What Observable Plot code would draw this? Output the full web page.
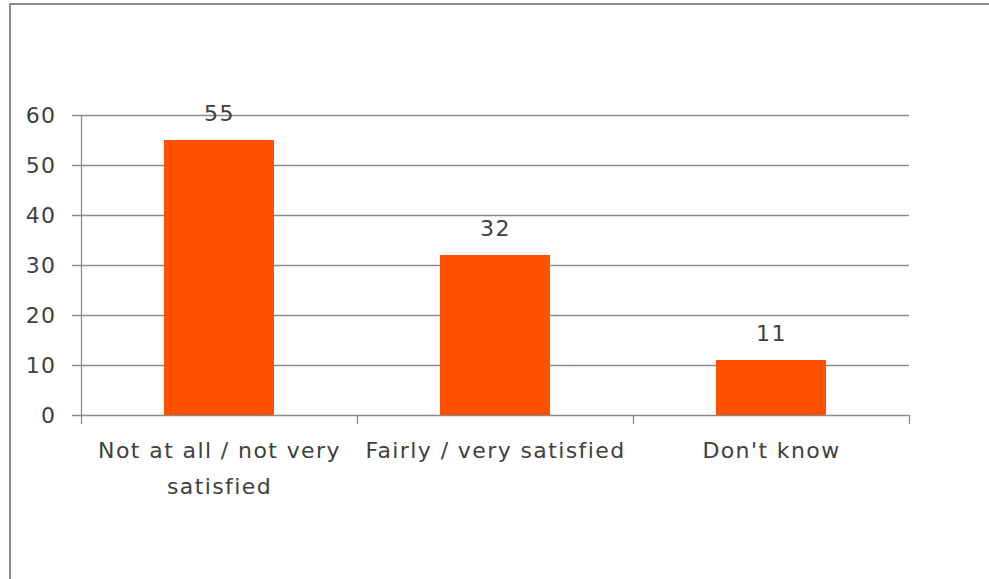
<!DOCTYPE html>
<html>
<head>
<meta charset="utf-8">
<script src="https://cdn.jsdelivr.net/npm/d3@7"></script>
<script src="https://cdn.jsdelivr.net/npm/@observablehq/plot@0.6"></script>
<style>
  html, body { margin: 0; padding: 0; background: #fff; overflow: hidden; width: 989px; height: 579px; }
  #frame { position: absolute; left: 9px; top: 3px; width: 1000px; height: 600px;
           border-left: 2px solid #8c8c8c; border-top: 2px solid #8c8c8c; }
  #chart { position: absolute; left: 0; top: 0; }
  #chart text { letter-spacing: 1.4px; }
</style>
</head>
<body>
<div id="frame"></div>
<div id="chart"></div>
<script>
const categories = ["Not at all / not very satisfied", "Fairly / very satisfied", "Don't know"];
const tickLabels = ["Not at all / not very\nsatisfied", "Fairly / very satisfied", "Don't know"];
const values = [55, 32, 11];
const yTicks = [0, 10, 20, 30, 40, 50, 60];

const data = categories.map((c, i) => ({category: c, value: values[i], label: tickLabels[i]}));

const W = 989, H = 579;
const mL = 81, mR = 80, mT = 115, mB = 164;
const step = (W - mL - mR) / categories.length;
const font = "'DejaVu Sans', sans-serif";
const grid = "#8a8a8a";
const textColor = "#404040";

const chart = Plot.plot({
  width: W,
  height: H,
  marginLeft: mL,
  marginRight: mR,
  marginTop: mT,
  marginBottom: mB,
  style: {fontFamily: font, background: "transparent", overflow: "visible"},
  x: {domain: categories, paddingInner: 0.6, paddingOuter: 0.3, axis: null},
  y: {domain: [0, 60], axis: null},
  marks: [
    Plot.ruleY(yTicks, {stroke: grid, strokeWidth: 1.3, insetLeft: -9}),
    Plot.barY(data, {x: "category", y: "value", fill: "#ff5000"}),
    Plot.ruleX([categories[0]], {dx: -step / 2, y1: 60, y2: 0, insetBottom: -9, stroke: grid, strokeWidth: 1.3}),
    Plot.ruleX(categories.slice(1), {dx: -step / 2, y1: 0, y2: 0, insetBottom: -9, stroke: grid, strokeWidth: 1.3}),
    Plot.ruleX(categories.slice(-1), {dx: step / 2, y1: 0, y2: 0, insetBottom: -9, stroke: grid, strokeWidth: 1.3}),
    Plot.text(yTicks, {x: () => categories[0], y: d => d, text: d => String(d), dx: -step / 2 - 25, textAnchor: "end", fontSize: 22, fill: textColor}),
    Plot.text(data, {x: "category", y: "value", text: d => String(d.value), dy: -27, fontSize: 22, fill: textColor}),
    Plot.text(data, {x: "category", y: () => 0, text: "label", lineAnchor: "top", dy: 18, lineHeight: 1.6, fontSize: 22, fill: textColor})
  ]
});
document.getElementById("chart").appendChild(chart);
</script>
</body>
</html>
